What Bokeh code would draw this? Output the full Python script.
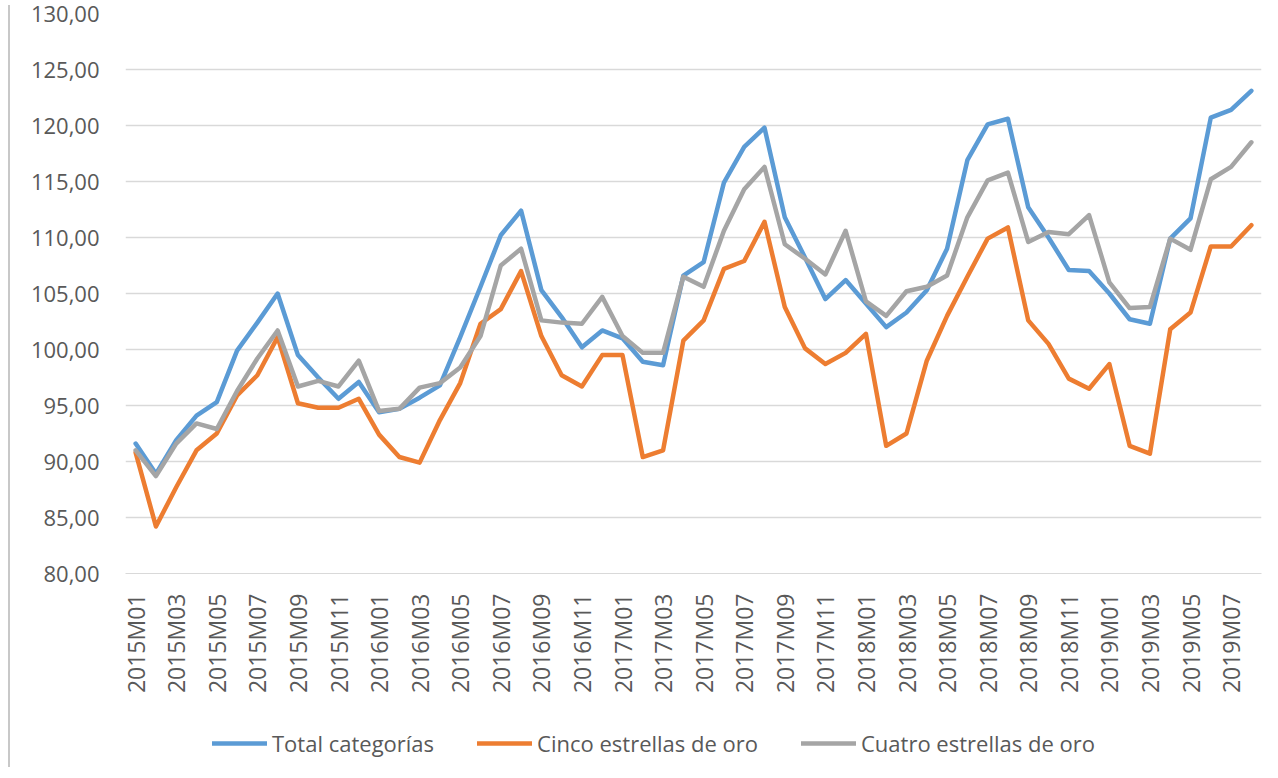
from bokeh.plotting import figure
from bokeh.models import FixedTicker, Legend, LegendItem, Range1d, Div, Spacer
from bokeh.layouts import row, column
from bokeh.embed import file_html
from bokeh.resources import INLINE
import math

months = [f"{y}M{m:02d}" for y in range(2015, 2020) for m in range(1, 13)][:56]

total = [91.6, 88.9, 91.9, 94.1, 95.3, 99.9, 102.4, 105.0, 99.5, 97.5, 95.6, 97.1,
         94.4, 94.7, 95.7, 96.8, 101.1, 105.6, 110.2, 112.4, 105.3, 102.9, 100.2, 101.7,
         101.0, 98.9, 98.6, 106.6, 107.8, 114.9, 118.1, 119.8, 111.8, 108.2, 104.5, 106.2,
         104.1, 102.0, 103.3, 105.3, 109.0, 116.9, 120.1, 120.6, 112.7, 110.0, 107.1, 107.0,
         105.0, 102.7, 102.3, 109.9, 111.7, 120.7, 121.4, 123.1]

cinco = [90.8, 84.2, 87.7, 91.0, 92.5, 95.9, 97.7, 101.1, 95.2, 94.8, 94.8, 95.6,
         92.4, 90.4, 89.9, 93.7, 97.0, 102.3, 103.6, 107.0, 101.2, 97.7, 96.7, 99.5,
         99.5, 90.4, 91.0, 100.8, 102.6, 107.2, 107.9, 111.4, 103.8, 100.1, 98.7, 99.7,
         101.4, 91.4, 92.5, 99.0, 103.0, 106.5, 109.9, 110.9, 102.6, 100.5, 97.4, 96.5,
         98.7, 91.4, 90.7, 101.8, 103.3, 109.2, 109.2, 111.1]

cuatro = [91.0, 88.7, 91.6, 93.4, 92.9, 96.3, 99.2, 101.7, 96.7, 97.2, 96.7, 99.0,
          94.5, 94.7, 96.6, 97.0, 98.4, 101.2, 107.5, 109.0, 102.6, 102.4, 102.3, 104.7,
          101.2, 99.7, 99.7, 106.5, 105.6, 110.6, 114.3, 116.3, 109.4, 108.1, 106.7, 110.6,
          104.3, 103.0, 105.2, 105.6, 106.6, 111.8, 115.1, 115.8, 109.6, 110.5, 110.3, 112.0,
          106.0, 103.7, 103.8, 109.9, 108.9, 115.2, 116.3, 118.5]

series_names = ["Total categorías", "Cinco estrellas de oro", "Cuatro estrellas de oro"]
series_colors = ["#5B9BD5", "#ED7D31", "#A5A5A5"]

y_ticks = [80, 85, 90, 95, 100, 105, 110, 115, 120, 125, 130]
y_labels = {t: f"{t:.2f}".replace(".", ",") for t in y_ticks}

x = list(range(len(months)))
FONT = "Open Sans"
TXT = "#595959"
LW = 4.5

p = figure(width=1257, height=710, output_backend="svg", toolbar_location=None,
           x_range=Range1d(-0.5, len(months) - 0.5), y_range=Range1d(80, 130),
           min_border_left=110, min_border_right=11, min_border_top=13, min_border_bottom=137)
p.outline_line_color = None
p.background_fill_color = "white"
p.border_fill_color = "white"

for vals, c in zip([total, cinco, cuatro], series_colors):
    p.line(x, vals, line_color=c, line_width=LW, line_join="round", line_cap="round")

# axes
p.xaxis.ticker = FixedTicker(ticks=list(range(0, len(months), 2)))
p.xaxis.major_label_overrides = {i: months[i] for i in range(0, len(months), 2)}
p.xaxis.major_label_orientation = math.pi / 2
p.xaxis.major_label_text_font = FONT
p.xaxis.major_label_text_font_size = "23px"
p.xaxis.major_label_text_color = TXT
p.xaxis.major_label_standoff = 14
p.xaxis.major_tick_line_color = None
p.xaxis.minor_tick_line_color = None
p.xaxis.axis_line_color = "#d9d9d9"

p.yaxis.ticker = FixedTicker(ticks=y_ticks)
p.yaxis.major_label_overrides = y_labels
p.yaxis.major_label_text_font = FONT
p.yaxis.major_label_text_font_size = "22px"
p.yaxis.major_label_text_color = TXT
p.yaxis.major_label_standoff = 20
p.yaxis.major_tick_line_color = None
p.yaxis.minor_tick_line_color = None
p.yaxis.axis_line_color = None

p.xgrid.grid_line_color = None
p.ygrid.grid_line_color = "#d9d9d9"
p.ygrid.grid_line_width = 1.5

# legend strip below the chart (legend proxies carry no visible data)
pl = figure(width=1257, height=52, output_backend="svg", toolbar_location=None,
            x_range=Range1d(0, 1), y_range=Range1d(0, 1),
            min_border_left=0, min_border_right=0, min_border_top=0, min_border_bottom=0)
pl.axis.visible = False
pl.grid.grid_line_color = None
pl.outline_line_color = None
pl.border_fill_color = "white"
leg_renderers = [pl.line([0.5], [float("nan")], line_color=c, line_width=LW, line_cap="round")
                 for c in series_colors]

legend = Legend(items=[LegendItem(label=n, renderers=[r]) for n, r in zip(series_names, leg_renderers)],
                orientation="horizontal", location=(87, 4),
                label_text_font=FONT, label_text_font_size="22px", label_text_color=TXT,
                glyph_width=55, glyph_height=20, label_standoff=5, spacing=43,
                border_line_color=None, background_fill_alpha=0, margin=0, padding=5)
pl.add_layout(legend)

border = Div(width=2, height=762, styles={"background-color": "#c8c8c8"})
layout = row(Spacer(width=3, height=762), border, column(p, pl))

open("out.html", "w").write(file_html(layout, INLINE))
